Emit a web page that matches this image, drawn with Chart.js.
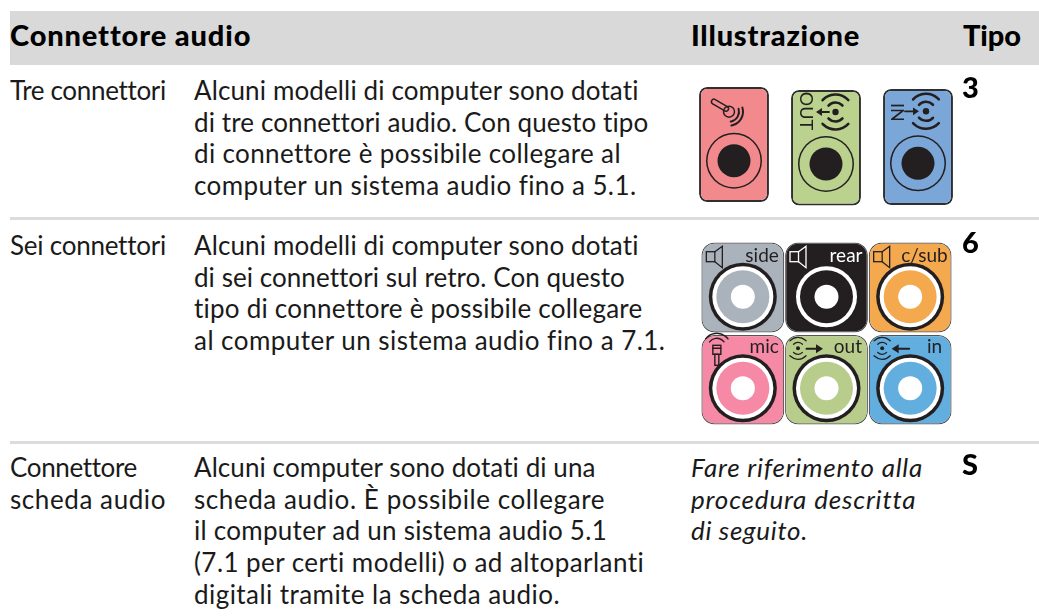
<!DOCTYPE html>
<html lang="it">
<head>
    <meta charset="UTF-8">
    <title>Connettore audio</title>
    <script src="https://cdn.jsdelivr.net/npm/chart.js"></script>
    <style>
        html, body { margin: 0; background: #fff; overflow: hidden; }
        #page { position: relative; width: 1039px; height: 616px; font-family: Lato, sans-serif; color: #1a1a1a; }
        #page canvas { position: absolute; }
        .band { position: absolute; left: 10px; top: 11px; width: 1029px; height: 54px; background: #d9d9d9; }
        .rule { position: absolute; left: 10px; width: 1029px; height: 3px; background: #dcdcdc; }
        .line { position: absolute; white-space: nowrap; font-size: 26px; line-height: 32px; }
        .head { font-weight: 900; color: #000; font-size: 29px; }
        .kind { font-weight: 900; color: #000; font-size: 29px; }
        .it { font-style: italic; }
    </style>
</head>
<body>
<div id="page">
    <div class="band"></div>
    <div class="rule" style="top:217px"></div>
    <div class="rule" style="top:441px"></div>
    <canvas id="threeChart" width="276" height="135" style="left:688px;top:80px"></canvas>
    <canvas id="sixChart" width="251" height="195" style="left:701px;top:235px"></canvas>
</div>

<script>
    // table text
    const headers = ['Connettore audio', 'Illustrazione', 'Tipo'];
    const rowLabels = [['Tre connettori'], ['Sei connettori'], ['Connettore', 'scheda audio']];
    const rowText = [
        ['Alcuni modelli di computer sono dotati', 'di tre connettori audio. Con questo tipo', 'di connettore è possibile collegare al', 'computer un sistema audio fino a 5.1.'],
        ['Alcuni modelli di computer sono dotati', 'di sei connettori sul retro. Con questo', 'tipo di connettore è possibile collegare', 'al computer un sistema audio fino a 7.1.'],
        ['Alcuni computer sono dotati di una', 'scheda audio. È possibile collegare', 'il computer ad un sistema audio 5.1', '(7.1 per certi modelli) o ad altoparlanti', 'digitali tramite la scheda audio.']
    ];
    const rowKinds = ['3', '6', 'S'];
    const noteLines = ['Fare riferimento alla', 'procedura descritta', 'di seguito.'];

    // three jack panel
    const threeJacks = ['mic', 'out', 'in'];
    const threeTop = [87, 90, 89];
    const threeBottom = [202, 205.5, 205];
    const threeJackY = [160.7, 164, 163.3];

    // six jack panel
    const sixColumns = ['sinistra', 'centro', 'destra'];
    const upperLabels = ['side', 'rear', 'c/sub'];
    const lowerLabels = ['mic', 'out', 'in'];
    const upperSpan = [[242.5, 332.5], [242.5, 332.5], [242.5, 332.5]];
    const lowerSpan = [[335, 424.5], [335, 424.5], [335, 424.5]];
    const upperJackY = [296.7, 296.7, 296.7];
    const lowerJackY = [388.3, 388.3, 388.3];

    const threeColors = ['#f28a8d', '#bbd18e', '#7aa6d8'];
    const upperColors = ['#aab2bc', '#231f20', '#f4a94f'];
    const lowerColors = ['#f68aa6', '#b8cd8b', '#62aede'];
    const INK = '#231f20';

    // right edge of each text line, so the lines end where they do in the picture
    const headerEnds = [250, 860, 1021];
    const labelEnds = [[165], [165], [136, 166]];
    const textEnds = [
        [639, 648, 620, 636],
        [639, 624, 642, 665],
        [596, 605, 607, 645, 560]
    ];
    const noteEnds = [923, 915, 808];

    const page = document.getElementById('page');

    function addLine(text, left, top, cls, end) {
        const el = document.createElement('div');
        el.className = 'line ' + (cls || '');
        el.textContent = text;
        el.style.left = left + 'px';
        el.style.top = top + 'px';
        page.appendChild(el);
        if (end) {
            const natural = el.getBoundingClientRect().width;
            el.style.letterSpacing = ((end - left - natural) / text.length) + 'px';
        }
    }

    const rowTops = [74, 229, 451];
    addLine(headers[0], 10, 19, 'head', headerEnds[0]);
    addLine(headers[1], 691, 19, 'head', headerEnds[1]);
    addLine(headers[2], 963, 19, 'head', headerEnds[2]);
    rowTops.forEach((top, r) => {
        rowLabels[r].forEach((t, i) => addLine(t, 10, top + i * 31.7, '', labelEnds[r][i]));
        rowText[r].forEach((t, i) => addLine(t, 194, top + i * 31.7, '', textEnds[r][i]));
        addLine(rowKinds[r], 962, top - 3, 'kind');
    });
    noteLines.forEach((t, i) => addLine(t, 691, rowTops[2] + i * 31.7, 'it', noteEnds[i]));

    // one layer of a jack, drawn as points on the chart scales
    function ring(values, radius, fill, order) {
        return {
            type: 'line', data: values, showLine: false, order: order, clip: false,
            pointRadius: radius, pointHoverRadius: radius,
            pointBackgroundColor: fill, pointBorderWidth: 0
        };
    }

    function arcs(ctx, x, y, radii, width) {
        ctx.lineWidth = width;
        radii.forEach(r => {
            ctx.beginPath(); ctx.arc(x, y, r, -2.4, -0.75); ctx.stroke();
            ctx.beginPath(); ctx.arc(x, y, r, 0.75, 2.4); ctx.stroke();
        });
    }

    function dot(ctx, x, y, r) {
        ctx.beginPath(); ctx.arc(x, y, r, 0, Math.PI * 2); ctx.fill();
    }

    function arrow(ctx, x0, x1, y, head, width) {
        const dir = x1 > x0 ? 1 : -1;
        ctx.lineWidth = width;
        ctx.beginPath(); ctx.moveTo(x0, y); ctx.lineTo(x1 - dir * head, y); ctx.stroke();
        ctx.beginPath(); ctx.moveTo(x1, y); ctx.lineTo(x1 - dir * head, y - head * 0.65);
        ctx.lineTo(x1 - dir * head, y + head * 0.65); ctx.closePath(); ctx.fill();
    }

    function speaker(ctx, x, y, color) {
        ctx.strokeStyle = color;
        ctx.lineWidth = 1.3;
        ctx.strokeRect(x - 36.5, y - 45, 8.5, 10);
        ctx.beginPath();
        ctx.moveTo(x - 28, y - 45); ctx.lineTo(x - 20.5, y - 50.5);
        ctx.lineTo(x - 20.5, y - 29); ctx.lineTo(x - 28, y - 35);
        ctx.stroke();
    }

    function rotatedWord(ctx, word, x, y) {
        ctx.save();
        ctx.translate(x, y);
        ctx.rotate(Math.PI / 2);
        ctx.font = '18px Lato';
        ctx.textAlign = 'center';
        ctx.textBaseline = 'middle';
        ctx.fillText(word, 0, 0);
        ctx.restore();
    }

    const threeIcons = {
        id: 'threeIcons',
        afterDatasetsDraw(chart) {
            const ctx = chart.ctx;
            const px = i => chart.scales.x.getPixelForValue(i);
            const py = i => chart.scales.y.getPixelForValue(threeJackY[i]);
            ctx.save();
            ctx.strokeStyle = INK;
            ctx.fillStyle = INK;
            ctx.lineCap = 'round';

            // microphone
            const mx = px(0), my = py(0);
            ctx.lineWidth = 6.5;
            ctx.beginPath(); ctx.moveTo(mx - 20, my - 59); ctx.lineTo(mx - 8, my - 52); ctx.stroke();
            ctx.strokeStyle = threeColors[0];
            ctx.lineWidth = 3.6;
            ctx.beginPath(); ctx.moveTo(mx - 20, my - 59); ctx.lineTo(mx - 8, my - 52); ctx.stroke();
            ctx.strokeStyle = INK;
            ctx.lineWidth = 1.5;
            ctx.beginPath(); ctx.arc(mx - 5, my - 49, 5.5, 0, Math.PI * 2); ctx.stroke();
            ctx.lineWidth = 2;
            [10, 14].forEach(r => {
                ctx.beginPath(); ctx.arc(mx - 5, my - 49, r, -0.3, 1.4); ctx.stroke();
            });

            // out
            const ox = px(1), oy = py(1);
            rotatedWord(ctx, 'OUT', ox - 20.5, oy - 53);
            dot(ctx, ox + 9.5, oy - 52, 3.2);
            arcs(ctx, ox + 9.5, oy - 52, [9.5, 17.5], 2.6);
            arrow(ctx, ox + 3, ox - 10, oy - 52, 6, 1.8);

            // in
            const ix = px(2), iy = py(2);
            rotatedWord(ctx, 'IN', ix - 21, iy - 51);
            dot(ctx, ix + 8, iy - 52, 3.2);
            arcs(ctx, ix + 8, iy - 52, [9.5, 17.5], 2.6);
            arrow(ctx, ix - 13, ix + 1, iy - 52, 6, 1.8);
            ctx.restore();
        }
    };

    const sixIcons = {
        id: 'sixIcons',
        afterDatasetsDraw(chart) {
            const ctx = chart.ctx;
            const px = i => chart.scales.x.getPixelForValue(i);
            const up = i => chart.scales.y.getPixelForValue(upperJackY[i]);
            const low = i => chart.scales.y.getPixelForValue(lowerJackY[i]);
            ctx.save();
            ctx.lineCap = 'round';
            ctx.font = '19px Lato';
            ctx.textAlign = 'right';
            ctx.textBaseline = 'alphabetic';

            upperLabels.forEach((label, i) => {
                const color = i === 1 ? '#fff' : INK;
                speaker(ctx, px(i), up(i), color);
                ctx.fillStyle = color;
                ctx.fillText(label, px(i) + (i === 2 ? 37.5 : 36), up(i) - 35);
            });
            ctx.fillStyle = INK;
            ctx.strokeStyle = INK;
            const rightEdge = [36, 35.5, 32];
            lowerLabels.forEach((label, i) => {
                ctx.fillText(label, px(i) + rightEdge[i], low(i) - 35);
            });

            // mic
            const mx = px(0), my = low(0);
            ctx.lineWidth = 1.4;
            [9, 14].forEach(r => {
                ctx.beginPath(); ctx.arc(mx - 26, my - 41, r, -2.5, -0.65); ctx.stroke();
            });
            ctx.strokeRect(mx - 30, my - 43, 8, 9);
            ctx.beginPath();
            ctx.moveTo(mx - 30, my - 40); ctx.lineTo(mx - 22, my - 40);
            ctx.stroke();
            ctx.strokeRect(mx - 28, my - 34, 4, 11);

            // out and in
            const ox = px(1), oy = low(1);
            dot(ctx, ox - 28.5, oy - 40, 2);
            arcs(ctx, ox - 28.5, oy - 40, [6, 11], 1.3);
            arrow(ctx, ox - 20, ox - 3.5, oy - 39.5, 7, 2);
            const ix = px(2), iy = low(2);
            dot(ctx, ix - 28, iy - 40, 2);
            arcs(ctx, ix - 28, iy - 40, [6, 11], 1.3);
            arrow(ctx, ix - 1, ix - 18.5, iy - 39.5, 7, 2);
            ctx.restore();
        }
    };

    new Chart(document.getElementById('threeChart').getContext('2d'), {
        type: 'bar',
        data: {
            labels: threeJacks,
            datasets: [
                ring(threeJackY, 16.5, INK, 1),
                ring(threeJackY, 26.5, threeColors, 2),
                ring(threeJackY, 28, INK, 3),
                {
                    data: threeJacks.map((n, i) => [threeTop[i], threeBottom[i]]),
                    order: 4, backgroundColor: threeColors, borderColor: '#2f2f2f',
                    borderWidth: 2, borderRadius: 8, borderSkipped: false,
                    barPercentage: 0.76, categoryPercentage: 1
                }
            ]
        },
        options: {
            responsive: false, animation: false, events: [],
            layout: { padding: 0, autoPadding: false },
            plugins: { legend: { display: false }, tooltip: { enabled: false } },
            scales: {
                x: { display: false },
                y: { display: false, reverse: true, min: 80, max: 215 }
            }
        },
        plugins: [threeIcons]
    });

    function sixLayers(jackY, colors, base) {
        return [
            ring(jackY, 12, '#fff', base + 1),
            ring(jackY, 26.5, colors, base + 2),
            ring(jackY, 30.5, '#fff', base + 3),
            ring(jackY, 34, INK, base + 4)
        ];
    }

    new Chart(document.getElementById('sixChart').getContext('2d'), {
        type: 'bar',
        data: {
            labels: sixColumns,
            datasets: [
                ...sixLayers(upperJackY, upperColors, 0),
                ...sixLayers(lowerJackY, lowerColors, 0),
                {
                    data: upperSpan, order: 10, grouped: false, backgroundColor: upperColors,
                    borderColor: '#555', borderWidth: 1.2, borderRadius: 13, borderSkipped: false,
                    barPercentage: 1, categoryPercentage: 0.99
                },
                {
                    data: lowerSpan, order: 10, grouped: false, backgroundColor: lowerColors,
                    borderColor: '#555', borderWidth: 1.2, borderRadius: 13, borderSkipped: false,
                    barPercentage: 1, categoryPercentage: 0.99
                }
            ]
        },
        options: {
            responsive: false, animation: false, events: [],
            layout: { padding: 0, autoPadding: false },
            plugins: { legend: { display: false }, tooltip: { enabled: false } },
            scales: {
                x: { display: false },
                y: { display: false, reverse: true, min: 235, max: 430 }
            }
        },
        plugins: [sixIcons]
    });
</script>
</body>
</html>
